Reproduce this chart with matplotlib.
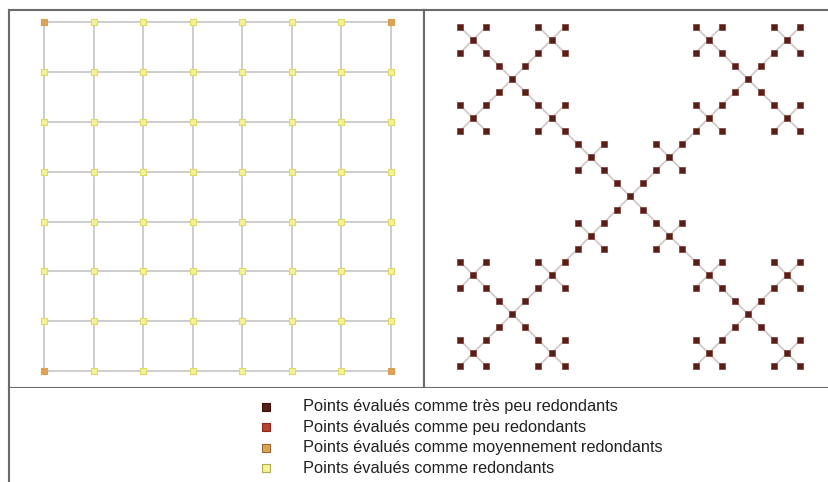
import matplotlib
matplotlib.use("Agg")
import matplotlib.pyplot as plt
from matplotlib.collections import LineCollection
import numpy as np

# ---------------- data ----------------
grid_cols = 8
grid_rows = 8
grid_corner_cells = [(0, 0), (7, 0), (0, 7), (7, 7)]   # "moyennement redondants"
fractal_motif = [(0, 0), (2, 0), (1, 1), (0, 2), (2, 2)]  # X motif, repeated at 3 scales
fractal_levels = 3
legend_labels = [
    "Points évalués comme très peu redondants",
    "Points évalués comme peu redondants",
    "Points évalués comme moyennement redondants",
    "Points évalués comme redondants",
]
legend_faces = ["#5a1e18", "#b8432e", "#dfa354", "#f4f295"]
legend_edges = ["#3a100c", "#8a2a1c", "#9a6a30", "#b0ac58"]

# ---------------- build point sets ----------------
left_pts = [(c, r) for r in range(grid_rows) for c in range(grid_cols)]
left_corner = [p for p in left_pts if p in grid_corner_cells]
left_other = [p for p in left_pts if p not in grid_corner_cells]
left_edges = [(a, b) for i, a in enumerate(left_pts) for b in left_pts[i + 1:]
              if abs(a[0] - b[0]) + abs(a[1] - b[1]) == 1]

right_pts = [(0, 0)]
for k in range(fractal_levels):
    s = 3 ** k
    right_pts = [(mx * s + px, my * s + py) for (mx, my) in fractal_motif for (px, py) in right_pts]
right_pts = sorted(set(right_pts))
right_edges = [(a, b) for i, a in enumerate(right_pts) for b in right_pts[i + 1:]
               if abs(a[0] - b[0]) == 1 and abs(a[1] - b[1]) == 1]

# ---------------- figure ----------------
W, H = 829, 482
fig = plt.figure(figsize=(W / 100, H / 100), dpi=100)
fig.patch.set_facecolor("white")

def px_axes(x0, y0, x1, y1):
    return fig.add_axes([x0 / W, 1 - y1 / H, (x1 - x0) / W, (y1 - y0) / H])

border_col = "#6b6b6b"
border_lw = 1.5

# left panel
axL = px_axes(9, 10, 424, 388)
axL.set_xlim(-0.706, 7.666)
axL.set_ylim(7.34, -0.25)
axL.add_collection(LineCollection(left_edges, colors="#c9c9c9", linewidths=1.3, zorder=1))
axL.scatter([p[0] for p in left_other], [p[1] for p in left_other], marker="s", s=24,
            c=legend_faces[3], edgecolors="#dedb6a", linewidths=0.8, zorder=3)
axL.scatter([p[0] for p in left_corner], [p[1] for p in left_corner], marker="s", s=24,
            c=legend_faces[2], edgecolors="#d9a050", linewidths=0.8, zorder=3)

# right panel
axR = px_axes(424, 10, 829, 388)
axR.set_xlim(-2.75, 28.2)
axR.set_ylim(27.67, -1.28)
axR.add_collection(LineCollection(right_edges, colors="#d3c9c8", linewidths=1.3, zorder=1))
axR.scatter([p[0] for p in right_pts], [p[1] for p in right_pts], marker="s", s=18,
            c=legend_faces[0], edgecolors="#7a3a32", linewidths=0.5, zorder=3)

for ax in (axL, axR):
    ax.set_xticks([])
    ax.set_yticks([])
    for sp in ax.spines.values():
        sp.set_color(border_col)
        sp.set_linewidth(border_lw)
axR.spines["right"].set_visible(False)

# legend area
axG = px_axes(9, 388, 829, 482)
axG.set_xlim(9, 829)
axG.set_ylim(482, 388)
axG.set_xticks([])
axG.set_yticks([])
for name, sp in axG.spines.items():
    sp.set_visible(name == "left")
    sp.set_color(border_col)
    sp.set_linewidth(border_lw)

row_y = [406.7, 427.3, 447.7, 468.3]
for y, lab, fc, ec in zip(row_y, legend_labels, legend_faces, legend_edges):
    axG.scatter([266], [y], marker="s", s=26, c=fc, edgecolors=ec, linewidths=0.8)
    axG.text(303, y, lab, fontsize=11.8, family="Liberation Sans", color="#222222",
             va="center", ha="left")

fig.savefig("out.png", dpi=100, facecolor="white")
